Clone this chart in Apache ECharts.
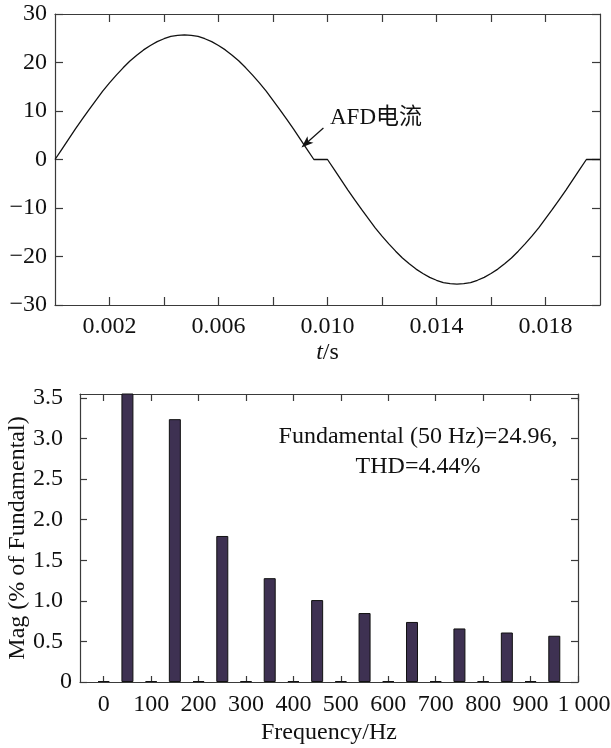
<!DOCTYPE html>
<html>
<head>
<meta charset="utf-8">
<script src="https://cdn.jsdelivr.net/npm/echarts@6/dist/echarts.min.js"></script>
<style>
  html, body { margin: 0; padding: 0; background: #fff; }
  #main { width: 611px; height: 748px; }
</style>
</head>
<body>
<div id="main"></div>
<script>
// AFD current, every 0.25 ms over one 20 ms cycle
var tStep = 0.00025;
var current = [
    0, 2.1, 4.2, 6.3, 8.3, 10.3, 12.2, 14.1, 15.8, 17.4, 18.9, 20.3, 21.5, 22.6, 23.5, 24.3, 24.9, 25.4, 25.6, 25.7,
    25.6, 25.4, 24.9, 24.3, 23.5, 22.6, 21.5, 20.3, 18.9, 17.4, 15.8, 14.1, 12.2, 10.3, 8.3, 6.3, 4.2, 2.1, 0,
    0, 0,
    -2.1, -4.2, -6.3, -8.3, -10.3, -12.2, -14.1, -15.8, -17.4, -18.9, -20.3, -21.5, -22.6, -23.5, -24.3, -24.9, -25.4, -25.6, -25.7,
    -25.6, -25.4, -24.9, -24.3, -23.5, -22.6, -21.5, -20.3, -18.9, -17.4, -15.8, -14.1, -12.2, -10.3, -8.3, -6.3, -4.2, -2.1,
    0, 0, 0
];
var tLabels = [0.002, 0.006, 0.010, 0.014, 0.018];
var tTicks = [0.002, 0.004, 0.006, 0.008, 0.010, 0.012, 0.014, 0.016, 0.018];

// FFT spectrum (% of fundamental); the 50 Hz bar is 100 % and runs off the top
var freqs = [0, 50, 100, 150, 200, 250, 300, 350, 400, 450, 500, 550, 600, 650, 700, 750, 800, 850, 900, 950];
var mags = [0.012, 100, 0.012, 3.24, 0.012, 1.80, 0.012, 1.28, 0.012, 1.01, 0.012, 0.85, 0.012, 0.74, 0.012, 0.66, 0.012, 0.61, 0.012, 0.57];
var fTicks = [0, 100, 200, 300, 400, 500, 600, 700, 800, 900, 1000];
var magTicks = [0, 0.5, 1.0, 1.5, 2.0, 2.5, 3.0, 3.5];

var FONT = 'Liberation Serif, Times New Roman, Noto Sans CJK SC, serif';
var AX = '#3a3a3a';
var TXT = '#111';

var wave = [];
for (var i = 0; i < current.length; i++) {
    wave.push([i * tStep, current[i]]);
}
var bars = [];
for (var j = 0; j < freqs.length; j++) {
    bars.push([freqs[j], mags[j]]);
}

function frameAxis(extra) {
    var a = {
        axisLine: { show: true, onZero: false, lineStyle: { color: AX, width: 1.2 } },
        axisTick: { show: true, inside: true, length: 8, lineStyle: { color: AX, width: 1.2 } },
        axisLabel: { show: false },
        splitLine: { show: false }
    };
    for (var k in extra) a[k] = extra[k];
    return a;
}

var myChart = echarts.init(document.getElementById('main'));
var option = {
    animation: false,
    backgroundColor: '#fff',
    grid: [
        { left: 55, right: 11, top: 14, height: 291, outerBoundsMode: 'none', containLabel: false },
        { left: 80, right: 33, top: 394, height: 288, outerBoundsMode: 'none', containLabel: false }
    ],
    xAxis: [
        frameAxis({
            type: 'value', gridIndex: 0, min: 0, max: 0.02, position: 'bottom',
            axisTick: { show: true, inside: true, length: 8, customValues: tTicks, lineStyle: { color: AX, width: 1.2 } },
            axisLabel: {
                show: true, customValues: tLabels, margin: 10,
                fontFamily: FONT, fontSize: 24, color: TXT,
                formatter: function (v) { return v.toFixed(3); }
            },
            name: '{i|t}/s', nameLocation: 'middle', nameGap: 36,
            nameTextStyle: {
                fontFamily: FONT, fontSize: 24, color: TXT,
                rich: { i: { fontFamily: FONT, fontSize: 24, fontStyle: 'italic', color: TXT } }
            }
        }),
        frameAxis({
            type: 'value', gridIndex: 0, min: 0, max: 0.02, position: 'top',
            axisTick: { show: true, inside: true, length: 8, customValues: tTicks, lineStyle: { color: AX, width: 1.2 } }
        }),
        frameAxis({
            type: 'value', gridIndex: 1, min: -50, max: 1000, position: 'bottom',
            axisTick: { show: true, inside: true, length: 6, customValues: fTicks, lineStyle: { color: AX, width: 1.2 } },
            axisLabel: {
                show: true, customValues: fTicks, margin: 11,
                fontFamily: FONT, fontSize: 24, color: TXT,
                formatter: function (v) { return v === 1000 ? '{r|1\u2009000}' : String(v); },
                rich: { r: { fontFamily: FONT, fontSize: 24, color: TXT, padding: [0, 0, 0, 12] } }
            },
            name: 'Frequency/Hz', nameLocation: 'middle', nameGap: 39,
            nameTextStyle: { fontFamily: FONT, fontSize: 24, color: TXT }
        }),
        frameAxis({
            type: 'value', gridIndex: 1, min: -50, max: 1000, position: 'top',
            axisTick: { show: true, inside: true, length: 7, customValues: fTicks, lineStyle: { color: AX, width: 1.2 } }
        })
    ],
    yAxis: [
        frameAxis({
            type: 'value', gridIndex: 0, min: -30, max: 30, interval: 10, position: 'left',
            axisLabel: {
                show: true, margin: 8,
                fontFamily: FONT, fontSize: 24, color: TXT,
                formatter: function (v) { return v < 0 ? '\u2212' + (-v) : String(v); }
            }
        }),
        frameAxis({
            type: 'value', gridIndex: 0, min: -30, max: 30, interval: 10, position: 'right'
        }),
        frameAxis({
            type: 'value', gridIndex: 1, min: 0, max: 3.55, position: 'left',
            axisTick: { show: true, inside: true, length: 7, customValues: magTicks, lineStyle: { color: AX, width: 1.2 } },
            axisLabel: {
                show: true, customValues: magTicks, margin: 8,
                fontFamily: FONT, fontSize: 24, color: TXT,
                formatter: function (v) { return v === 0 ? '0' : '{n|' + v.toFixed(1) + '}'; },
                rich: { n: { fontFamily: FONT, fontSize: 24, color: TXT, padding: [0, 9, 0, 0] } }
            },
            name: 'Mag (% of Fundamental)', nameLocation: 'middle', nameGap: 50,
            nameMoveOverlap: false,
            nameTextStyle: { fontFamily: FONT, fontSize: 24, color: TXT }
        }),
        frameAxis({
            type: 'value', gridIndex: 1, min: 0, max: 3.55, position: 'right',
            axisTick: { show: true, inside: true, length: 7, customValues: magTicks, lineStyle: { color: AX, width: 1.2 } }
        })
    ],
    series: [
        {
            name: 'AFD电流',
            type: 'line',
            xAxisIndex: 0,
            yAxisIndex: 0,
            showSymbol: false,
            smooth: false,
            lineStyle: { color: '#111', width: 1.3 },
            data: wave,
            markLine: {
                silent: true,
                animation: false,
                symbol: ['none', 'path://M0,0 L6,16 L0,12 L-6,16 Z'],
                symbolSize: [9, 12],
                label: { show: false },
                lineStyle: { color: '#111', width: 1.3, type: 'solid' },
                data: [[{ coord: [0.00985, 6.5] }, { coord: [0.00921, 3.3] }]]
            }
        },
        {
            type: 'bar',
            xAxisIndex: 2,
            yAxisIndex: 2,
            barWidth: 12,
            clip: true,
            itemStyle: { color: '#3e3152', borderColor: '#111', borderWidth: 1 },
            data: bars
        }
    ],
    graphic: [
        {
            type: 'text', left: 330, top: 106,
            style: { text: 'AFD电流', fontFamily: FONT, fontSize: 23, fill: TXT }
        },
        {
            type: 'text', x: 418, y: 437,
            style: { text: 'Fundamental (50 Hz)=24.96,', fontFamily: FONT, fontSize: 24, fill: TXT, align: 'center', verticalAlign: 'middle' }
        },
        {
            type: 'text', x: 418, y: 467,
            style: { text: 'THD=4.44%', fontFamily: FONT, fontSize: 24, fill: TXT, align: 'center', verticalAlign: 'middle' }
        }
    ]
};
myChart.setOption(option);
</script>
</body>
</html>
